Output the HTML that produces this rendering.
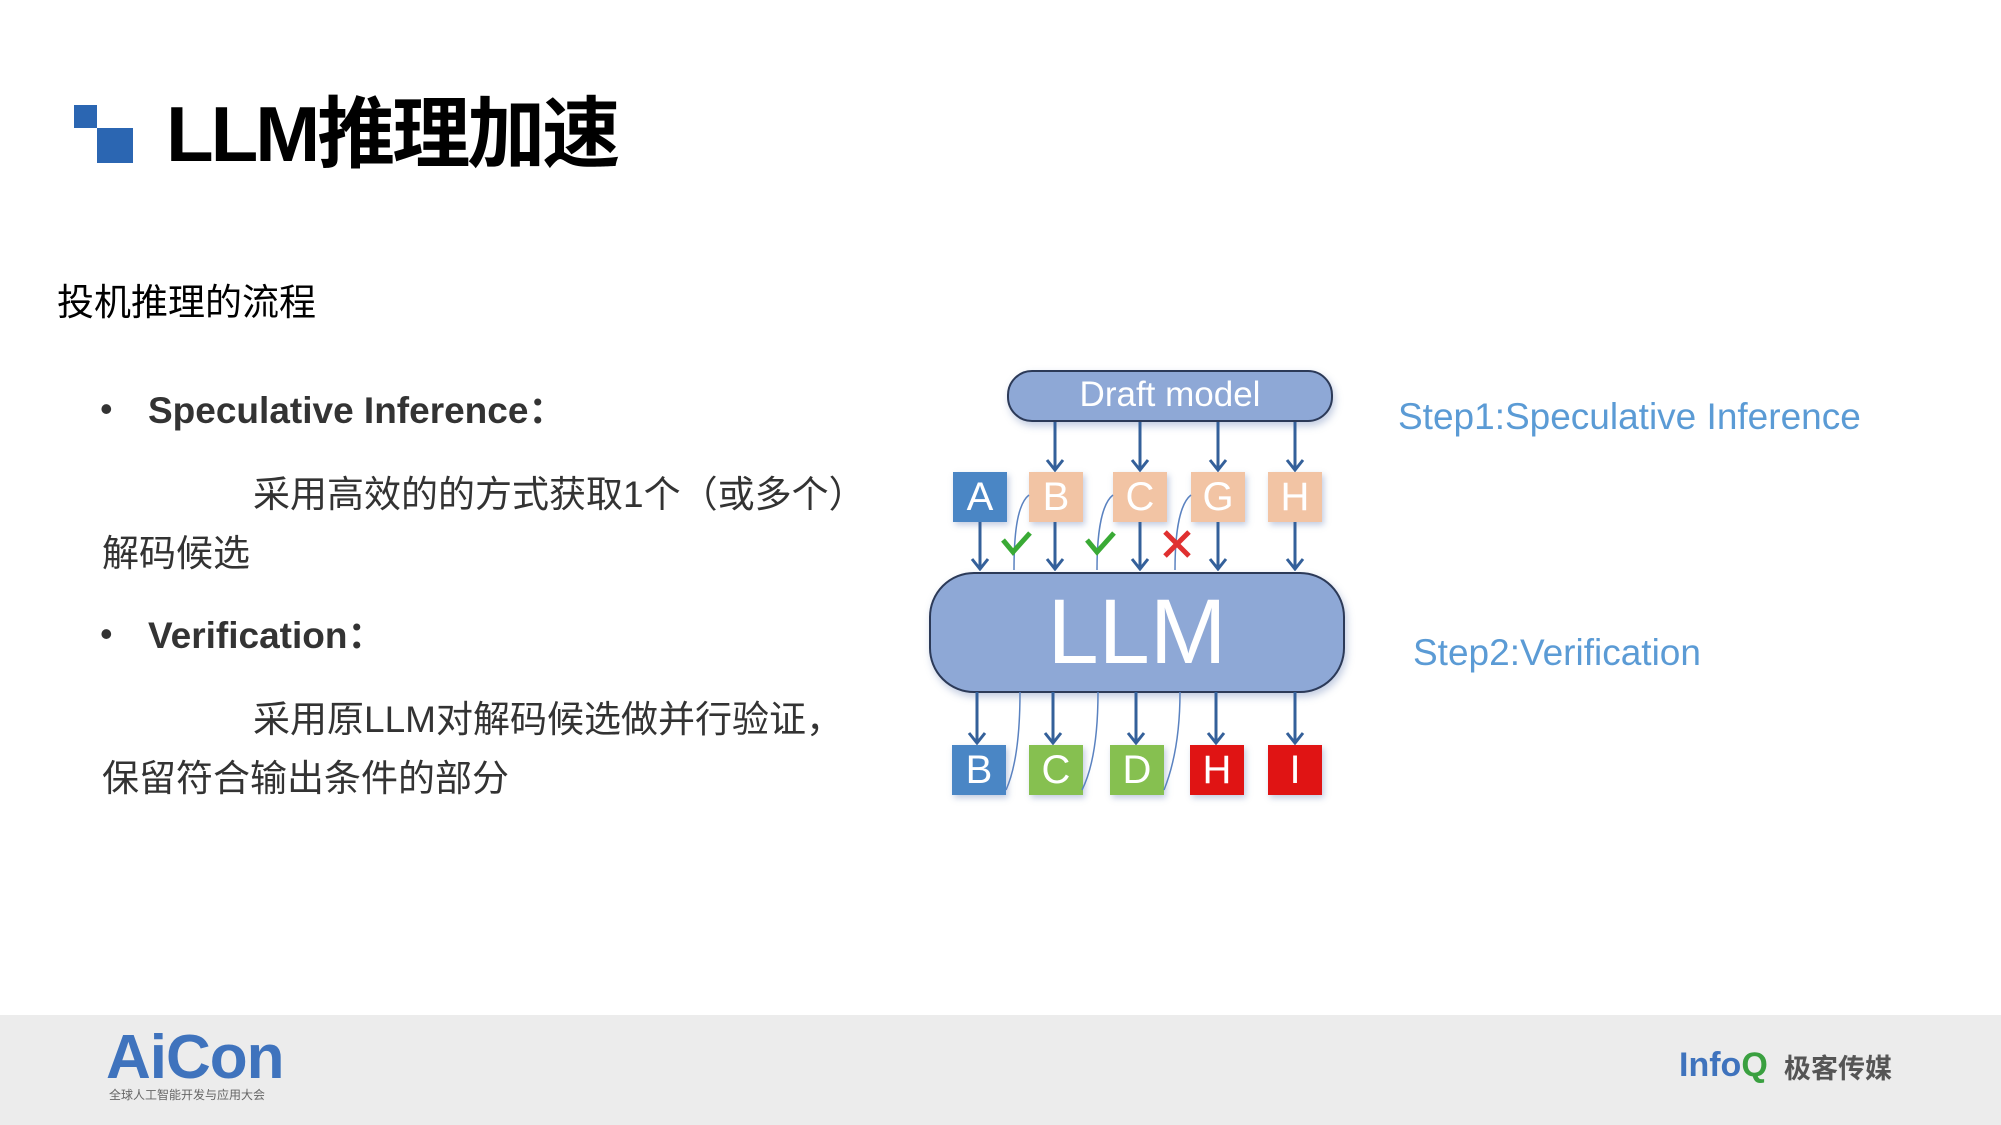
<!DOCTYPE html>
<html><head><meta charset="utf-8"><style>
body{margin:0;width:2001px;height:1125px;position:relative;background:#fff;overflow:hidden;font-family:"Liberation Sans","Noto Sans CJK SC",sans-serif;}
.a{position:absolute;white-space:nowrap;}
.box{position:absolute;width:54px;height:50px;color:#fff;font-size:40px;text-align:center;line-height:50px;box-shadow:2px 3px 6px rgba(80,110,170,.35);}
</style></head><body>
<div class="a" style="left:74px;top:105px;width:23px;height:23px;background:#2b66b2"></div>
<div class="a" style="left:97px;top:128px;width:36px;height:35px;background:#2b66b2"></div>
<div class="a" style="left:166px;top:84px;font-size:78px;font-weight:bold;color:#000;letter-spacing:-3px;line-height:100px">LLM推理加速</div>
<div class="a" style="left:57px;top:272px;font-size:37px;color:#000">投机推理的流程</div>
<div class="a" style="left:100px;top:388px;font-size:36px;color:#333">•</div>
<div class="a" style="left:148px;top:380px;font-size:37px;font-weight:bold;color:#333">Speculative Inference：</div>
<div class="a" style="left:253px;top:464px;font-size:37px;color:#333">采用高效的的方式获取1个（或多个）</div>
<div class="a" style="left:102px;top:523px;font-size:37px;color:#333">解码候选</div>
<div class="a" style="left:100px;top:613px;font-size:36px;color:#333">•</div>
<div class="a" style="left:148px;top:605px;font-size:37px;font-weight:bold;color:#333">Verification：</div>
<div class="a" style="left:253px;top:689px;font-size:37px;color:#333">采用原LLM对解码候选做并行验证，</div>
<div class="a" style="left:102px;top:748px;font-size:37px;color:#333">保留符合输出条件的部分</div>
<div class="a" style="left:1398px;top:396px;font-size:37px;color:#5b9bd5">Step1:Speculative Inference</div>
<div class="a" style="left:1413px;top:632px;font-size:37px;color:#5b9bd5">Step2:Verification</div>

<div class="a" style="left:1007px;top:370px;width:322px;height:48px;border:2px solid #2c3a58;border-radius:25px;background:#8ea8d6;color:#fff;font-size:35px;text-align:center;line-height:46px;box-shadow:2px 4px 8px rgba(80,110,170,.35)">Draft model</div>
<div class="a" style="left:929px;top:572px;width:412px;height:117px;border:2px solid #2c3a58;border-radius:45px;background:#8ea8d6;color:#fff;font-size:92px;text-align:center;line-height:117px;box-shadow:2px 4px 8px rgba(80,110,170,.35)">LLM</div>

<div class="box" style="left:953px;top:472px;background:#4a86c5">A</div>
<div class="box" style="left:1029px;top:472px;background:#f2c4a4">B</div>
<div class="box" style="left:1113px;top:472px;background:#f2c4a4">C</div>
<div class="box" style="left:1191px;top:472px;background:#f2c4a4">G</div>
<div class="box" style="left:1268px;top:472px;background:#f2c4a4">H</div>
<div class="box" style="left:952px;top:745px;background:#4a86c5">B</div>
<div class="box" style="left:1029px;top:745px;background:#86c050">C</div>
<div class="box" style="left:1110px;top:745px;background:#86c050">D</div>
<div class="box" style="left:1190px;top:745px;background:#e01414">H</div>
<div class="box" style="left:1268px;top:745px;background:#e01414">I</div>

<svg class="a" style="left:0;top:0" width="2001" height="1125">
<defs><marker id="m" markerWidth="20" markerHeight="14" refX="10" refY="12" orient="0" markerUnits="userSpaceOnUse"><path d="M2,2 L10,12 L18,2" fill="none" stroke="#34609a" stroke-width="3"/></marker></defs>
<g stroke="#34609a" stroke-width="3" marker-end="url(#m)">
<line x1="1055" y1="422" x2="1055" y2="470"/><line x1="1140" y1="422" x2="1140" y2="470"/><line x1="1218" y1="422" x2="1218" y2="470"/><line x1="1295" y1="422" x2="1295" y2="470"/>
<line x1="980" y1="522" x2="980" y2="569"/><line x1="1055" y1="522" x2="1055" y2="569"/><line x1="1140" y1="522" x2="1140" y2="569"/><line x1="1218" y1="522" x2="1218" y2="569"/><line x1="1295" y1="522" x2="1295" y2="569"/>
<line x1="977" y1="692" x2="977" y2="743"/><line x1="1053" y1="692" x2="1053" y2="743"/><line x1="1136" y1="692" x2="1136" y2="743"/><line x1="1216" y1="692" x2="1216" y2="743"/><line x1="1295" y1="692" x2="1295" y2="743"/>
</g>
<g stroke="#5a82c0" stroke-width="1.5" fill="none">
<path d="M1029,495 C1016,505 1014,540 1014,570"/><path d="M1113,495 C1100,505 1097,540 1097,570"/><path d="M1191,495 C1178,505 1175,540 1175,570"/>
<path d="M1020,692 C1020,740 1015,770 1006,790"/><path d="M1098,692 C1098,740 1092,770 1082,790"/><path d="M1180,692 C1180,740 1172,770 1164,790"/>
</g>
<g stroke="#3aaa35" stroke-width="5" fill="none"><path d="M1003,540 L1013,552 L1030,533"/><path d="M1087,540 L1097,552 L1114,533"/></g>
<g stroke="#e03030" stroke-width="5"><line x1="1165" y1="532" x2="1189" y2="556"/><line x1="1189" y1="532" x2="1165" y2="556"/></g>
</svg>

<div class="a" style="left:0;top:1015px;width:2001px;height:110px;background:#ececec"></div>
<div class="a" style="left:106px;top:1022px;font-size:62px;font-weight:bold;color:#3f73bd;letter-spacing:-1px">AiCon</div>
<div class="a" style="left:109px;top:1086px;font-size:12px;color:#666">全球人工智能开发与应用大会</div>
<div class="a" style="left:1679px;top:1046px;font-size:34px;font-weight:bold;color:#3f73bd">Info<span style="color:#3aa040">Q</span></div>
<div class="a" style="left:1784px;top:1047px;font-size:27px;font-weight:bold;color:#555">极客传媒</div>
</body></html>
